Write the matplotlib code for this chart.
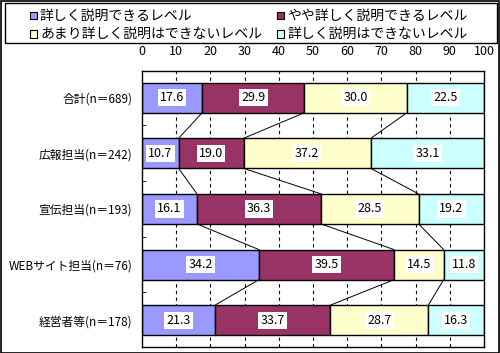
import numpy as np
import matplotlib.pyplot as plt
from matplotlib.patches import Rectangle

plt.rcParams['font.family'] = ['Noto Sans CJK JP', 'DejaVu Sans']

# data
groups = ['合計(n＝689)', '広報担当(n＝242)', '宣伝担当(n＝193)',
          'WEBサイト担当(n＝76)', '経営者等(n＝178)']
levels = ['詳しく説明できるレベル', 'やや詳しく説明できるレベル',
          'あまり詳しく説明はできないレベル', '詳しく説明はできないレベル']
level1 = [17.6, 10.7, 16.1, 34.2, 21.3]
level2 = [29.9, 19.0, 36.3, 39.5, 33.7]
level3 = [30.0, 37.2, 28.5, 14.5, 28.7]
level4 = [22.5, 33.1, 19.2, 11.8, 16.3]
x_ticks = [0, 10, 20, 30, 40, 50, 60, 70, 80, 90, 100]

colors = ['#9999FF', '#993366', '#FFFFCC', '#CCFFFF']
series = np.array([level1, level2, level3, level4])

W, H = 500, 353
fig = plt.figure(figsize=(W / 100, H / 100), dpi=100)
ax = fig.add_axes([0.284, 0.017, 0.684, 0.782])

y = np.arange(len(groups))
h = 0.54

# dashed grid behind bars
for xv in x_ticks[1:-1]:
    ax.axvline(xv, color='black', linestyle=(0, (3, 3)), linewidth=0.8, zorder=0)

left = np.zeros(len(groups))
for vals, col in zip(series, colors):
    ax.barh(y, vals, left=left, height=h, color=col, edgecolor='black',
            linewidth=1.0, zorder=2)
    for yi, (l, v) in enumerate(zip(left, vals)):
        ax.text(l + v / 2, yi, f'{v:.1f}', ha='center', va='center', fontsize=9,
                bbox=dict(facecolor='white', edgecolor='none', pad=1.5), zorder=4)
    left = left + vals

# series connecting lines
cum = np.cumsum(series, axis=0)[:-1]
for c in cum:
    for i in range(len(groups) - 1):
        ax.plot([c[i], c[i + 1]], [y[i] + h / 2, y[i + 1] - h / 2],
                color='black', linewidth=0.7, zorder=3)

ax.set_xlim(0, 100)
ax.set_ylim(4.48, -0.48)
ax.xaxis.tick_top()
ax.set_xticks(x_ticks)
ax.tick_params(axis='x', length=0, pad=9, labelsize=9)
ax.set_yticks(y)
ax.set_yticklabels(groups, fontsize=8.5)
ax.tick_params(axis='y', length=0, pad=7)
ax.set_yticks(np.arange(0.5, len(groups) - 1, 1), minor=True)
ax.tick_params(axis='y', which='minor', direction='in', length=3, color='black')
for s in ax.spines.values():
    s.set_color('black')
    s.set_linewidth(1.0)

# legend drawn by hand (pixel layout in figure coordinates)
def px(x, y_):
    return x / W, 1 - y_ / H

fig.patches.append(Rectangle(px(5, 43), 492 / W, 40 / H, transform=fig.transFigure,
                             fill=False, edgecolor='black', linewidth=1.0))
slots = [(30, 15.5), (277, 15.5), (30, 34), (277, 34)]
for (lx, ly), lab, col in zip(slots, levels, colors):
    fig.patches.append(Rectangle(px(lx, ly + 3.5), 7 / W, 7 / H,
                                 transform=fig.transFigure, facecolor=col,
                                 edgecolor='black', linewidth=0.8))
    tx, ty = px(lx + 10, ly)
    fig.text(tx, ty, lab, fontsize=10, ha='left', va='center')

fig.patches.append(Rectangle((0.001, 0.001), 0.997, 0.997, transform=fig.transFigure,
                             fill=False, edgecolor='black', linewidth=1.2))

fig.savefig('out.png', dpi=100)
